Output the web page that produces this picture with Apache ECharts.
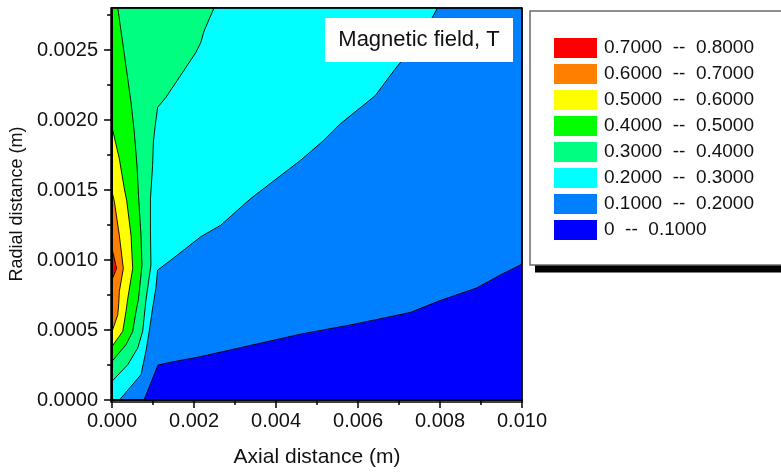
<!DOCTYPE html>
<html><head><meta charset="utf-8">
<script src="https://cdn.jsdelivr.net/npm/echarts@6/dist/echarts.min.js"></script>
<style>html,body{margin:0;padding:0;background:#fff}#c{width:781px;height:473px}</style>
</head><body><div id="c"></div>
<script>
// ---- axis ticks ----
const xTicks = [0, 0.002, 0.004, 0.006, 0.008, 0.010];
const yTicks = [0, 0.0005, 0.0010, 0.0015, 0.0020, 0.0025];
const yMinorTicks = [0.00025, 0.00075, 0.00125, 0.00175, 0.00225, 0.00275];
const xMax = 0.010, yMax = 0.0028;

// ---- contour levels ----
const levelNames = ['0  --  0.1000', '0.1000  --  0.2000', '0.2000  --  0.3000', '0.3000  --  0.4000',
                    '0.4000  --  0.5000', '0.5000  --  0.6000', '0.6000  --  0.7000', '0.7000  --  0.8000'];
const levelColors = ['#0000FF', '#0080FF', '#00FFFF', '#00FF80', '#00FF00', '#FFFF00', '#FF8000', '#FF0000'];

// ---- contour lines [axial, radial] (m) ----
const contour01 = [[0.00078,0],[0.00112,0.00025],[0.00143,0.00027],[0.00216,0.00031],[0.00459,0.00047],
  [0.00588,0.00054],[0.00727,0.000625],[0.00800,0.00071],[0.00889,0.00080],[0.00945,0.00089],[0.010,0.00097]];
const contour02 = [[0.00018,0],[0.000705,0.000181],[0.000826,0.000348],[0.000906,0.00049],[0.000989,0.000656],
  [0.001069,0.000798],[0.001111,0.000928],[0.001434,0.000999],[0.002163,0.001166],[0.002649,0.001248],
  [0.003378,0.001438],[0.004593,0.001711],[0.005159,0.001853],[0.005565,0.001972],[0.006416,0.002173],
  [0.006902,0.002363],[0.007064,0.002422],[0.007808,0.00273],[0.007939,0.0028]];
const contour03 = [[0,0.000134],[0.000382,0.000252],[0.000625,0.000371],[0.000746,0.00049],[0.000826,0.000713],
  [0.000948,0.000964],[0.000936,0.001201],[0.000936,0.001438],[0.000989,0.001675],[0.001008,0.001844],
  [0.001052,0.001959],[0.001111,0.00209],[0.001312,0.002161],[0.001718,0.002339],[0.002041,0.002481],
  [0.002163,0.002553],[0.002243,0.002635],[0.002486,0.0028]];
const contour04 = [[0,0.000277],[0.00034,0.000395],[0.000503,0.00049],[0.000583,0.000632],[0.000639,0.000713],
  [0.000663,0.000775],[0.000729,0.000962],[0.000705,0.001177],[0.000649,0.001438],[0.000608,0.001675],
  [0.000542,0.001913],[0.000462,0.002128],[0.000299,0.002469],[0.000139,0.0028]];
const contour05 = [[0,0.000383],[0.00026,0.00049],[0.00034,0.000632],[0.000377,0.000713],[0.000503,0.00094],
  [0.000462,0.001177],[0.000357,0.001424],[0.000299,0.001509],[0.000177,0.001723],[0,0.001948]];
const contour06 = [[0,0.00049],[0.000139,0.000608],[0.000163,0.000691],[0.000177,0.000775],[0.000275,0.00094],
  [0.000177,0.001177],[0.000056,0.001417],[0,0.001486]];
const contour07 = [[0,0.00086],[0.00011,0.00094],[0,0.00108]];

// regions with value above each level's lower bound
const regions = [
  [[0,0],[xMax,0],[xMax,yMax],[0,yMax]],
  contour01.concat([[xMax,yMax],[0,yMax],[0,0]]),
  contour02.concat([[0,yMax],[0,0]]),
  contour03.concat([[0,yMax]]),
  contour04.concat([[0,yMax]]),
  contour05,
  contour06,
  contour07
];

const FONT = 'Liberation Sans, Arial, sans-serif';

function makeSeries(i) {
  const pts = regions[i];
  return {
    type: 'custom', name: levelNames[i], coordinateSystem: 'cartesian2d',
    xAxisIndex: 0, yAxisIndex: 0,
    data: pts, encode: { x: 0, y: 1 }, clip: false, silent: true, animation: false,
    itemStyle: { color: levelColors[i] },
    renderItem: function (params, api) {
      if (params.dataIndex !== 0) return null;
      return {
        type: 'polygon',
        shape: { points: pts.map(p => api.coord(p)) },
        style: { fill: levelColors[i], stroke: '#000', lineWidth: 0.9 }
      };
    }
  };
}

const chart = echarts.init(document.getElementById('c'), null, { renderer: 'canvas' });
chart.setOption({
  animation: false,
  backgroundColor: '#fff',
  grid: { left: 111, right: 259, top: 8, bottom: 71 },
  xAxis: {
    type: 'value', min: 0, max: xMax, interval: 0.002, z: 10,
    name: 'Axial distance (m)', nameLocation: 'middle', nameGap: 47,
    nameTextStyle: { fontSize: 21, color: '#111', fontFamily: FONT },
    axisLine: { show: true, lineStyle: { color: '#000', width: 2 } },
    axisTick: { show: true, inside: false, length: 8, lineStyle: { color: '#000', width: 1.5 } },
    minorTick: { show: true, splitNumber: 2, length: 5, lineStyle: { color: '#000', width: 1.5 } },
    splitLine: { show: false }, minorSplitLine: { show: false },
    axisLabel: { margin: 11, fontSize: 20, color: '#111', fontFamily: FONT,
      formatter: v => v.toFixed(3) }
  },
  yAxis: [{
    type: 'value', min: 0, max: yMax, interval: 0.0005, position: 'left', z: 10,
    name: 'Radial distance (m)', nameLocation: 'middle', nameGap: 83, nameRotate: 90,
    nameTextStyle: { fontSize: 18, color: '#111', fontFamily: FONT },
    axisLine: { show: true, lineStyle: { color: '#000', width: 2 } },
    axisTick: { show: true, inside: false, length: 8, customValues: yTicks, lineStyle: { color: '#000', width: 1.5 } },
    splitLine: { show: false },
    axisLabel: { margin: 14, fontSize: 20, color: '#111', fontFamily: FONT, customValues: yTicks,
      formatter: v => v.toFixed(4) }
  }, {
    type: 'value', min: 0, max: yMax, interval: 0.00025, position: 'left', z: 10,
    axisLine: { show: false },
    axisTick: { show: true, inside: false, length: 5, customValues: yMinorTicks, lineStyle: { color: '#000', width: 1.5 } },
    splitLine: { show: false },
    axisLabel: { show: false }
  }],
  legend: {
    orient: 'vertical', left: 554, top: 38, padding: 0,
    itemWidth: 43, itemHeight: 20, itemGap: 6, icon: 'rect', selectedMode: false,
    data: levelNames.slice().reverse(),
    itemStyle: { borderWidth: 0 },
    textStyle: { fontSize: 19, color: '#111', fontFamily: FONT, padding: [0, 0, 0, 2] }
  },
  graphic: [
    { type: 'rect', z: 0, shape: { x: 530, y: 11, width: 270, height: 254 },
      style: { fill: '#fff', stroke: '#6a6a6a', lineWidth: 1.5 } },
    { type: 'rect', z: 0, shape: { x: 535, y: 265.5, width: 270, height: 7 }, style: { fill: '#000' } },
    { type: 'rect', z: 100, shape: { x: 111, y: 8, width: 411, height: 394 },
      style: { fill: 'none', stroke: '#000', lineWidth: 1.5 } },
    { type: 'rect', z: 100, shape: { x: 325, y: 18, width: 188, height: 44 }, style: { fill: '#fff' } },
    { type: 'text', z: 101, x: 419, y: 40,
      style: { text: 'Magnetic field, T', fontSize: 22, fill: '#111', fontFamily: FONT,
        textAlign: 'center', textVerticalAlign: 'middle', align: 'center', verticalAlign: 'middle' } }
  ],
  series: regions.map((_, i) => makeSeries(i))
});
</script>
</body></html>
